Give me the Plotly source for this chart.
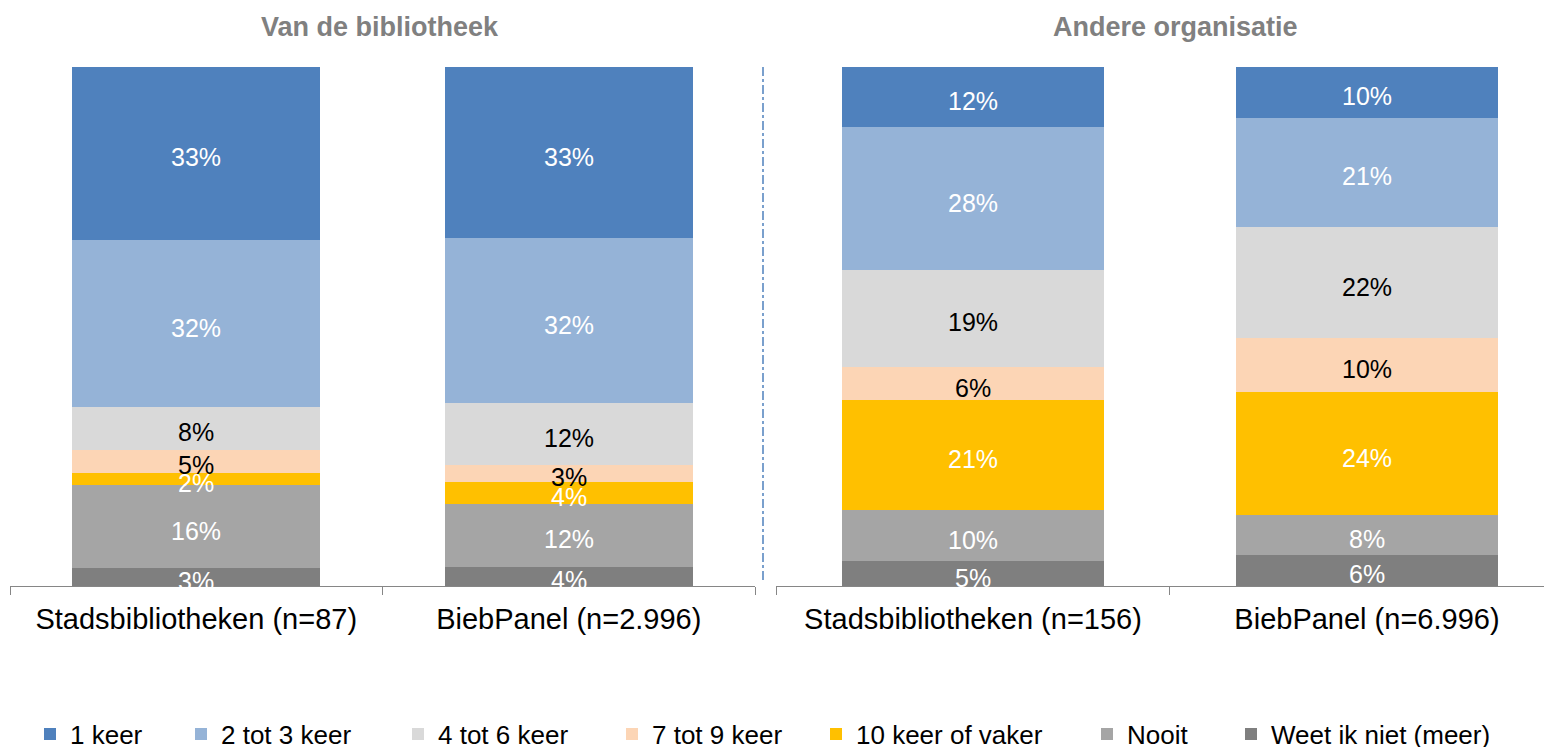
import plotly.graph_objects as go

W, H = 1552, 747
OFF = 8  # page body margin in the browser


def px_x(t):
    return (t - OFF) / W


def px_y(t):
    return 1 - (t - OFF) / H


series = ["Weet ik niet (meer)", "Nooit", "10 keer of vaker", "7 tot 9 keer",
          "4 tot 6 keer", "2 tot 3 keer", "1 keer"]
colors = ["#7F7F7F", "#A5A5A5", "#FFC000", "#FCD5B5", "#D9D9D9", "#95B3D7", "#4F81BD"]
text_colors = ["white", "white", "white", "black", "black", "white", "white"]

cats_left = ["Stadsbibliotheken (n=87)", "BiebPanel (n=2.996)"]
cats_right = ["Stadsbibliotheken (n=156)", "BiebPanel (n=6.996)"]

# values per series (bottom -> top), [bar1, bar2]
left_vals = [
    [3.4, 3.7],     # Weet ik niet (meer)
    [16.0, 12.1],   # Nooit
    [2.3, 4.2],     # 10 keer of vaker
    [4.6, 3.4],     # 7 tot 9 keer
    [8.1, 11.8],    # 4 tot 6 keer
    [32.3, 31.8],   # 2 tot 3 keer
    [33.3, 33.0],   # 1 keer
]
right_vals = [
    [4.8, 6.0],
    [9.8, 7.6],
    [21.2, 23.7],
    [6.4, 10.4],
    [18.7, 21.5],
    [27.5, 21.0],
    [11.6, 9.8],
]

panel_titles = ["Van de bibliotheek", "Andere organisatie"]

FONT = "Arial, Liberation Sans, sans-serif"
fig = go.Figure()

# target legend marker centres (screen px)
legend_marker_px = {"1 keer": 50, "2 tot 3 keer": 201, "4 tot 6 keer": 418, "7 tot 9 keer": 632,
                    "10 keer of vaker": 836, "Nooit": 1107, "Weet ik niet (meer)": 1251}


def add_panel(cats, vals, xa, ya, show_legend):
    cum = [0.0, 0.0]
    for i, name in enumerate(series):
        v = vals[i]
        lg = "legend" if i == 0 else f"legend{i+1}"
        fig.add_trace(go.Bar(
            x=cats, y=v, name=name, marker=dict(color=colors[i], line=dict(width=0)),
            width=0.665, xaxis=xa, yaxis=ya, legendgroup=name, legend=lg,
            showlegend=show_legend, hoverinfo="skip"))
        for k in range(2):
            mid = cum[k] + v[k] / 2
            fig.add_annotation(
                x=cats[k], y=mid, xref=xa, yref=ya, text=f"{round(v[k])}%",
                showarrow=False, xanchor="center", yanchor="middle", yshift=-4,
                font=dict(color=text_colors[i], size=25, family=FONT))
        cum = [cum[k] + v[k] for k in range(2)]


add_panel(cats_left, left_vals, "x", "y", True)
add_panel(cats_right, right_vals, "x2", "y2", False)

ydom = [px_y(586), px_y(67)]
axis_common = dict(type="category", showline=True, linecolor="#868686", linewidth=1,
                   ticks="outside", ticklen=8, tickcolor="#868686", tickson="boundaries",
                   showgrid=False, zeroline=False, ticklabelstandoff=7,
                   tickfont=dict(size=29, color="black", family=FONT))
layout = dict(
    width=W, height=H, margin=dict(l=0, r=0, t=0, b=0, autoexpand=False),
    paper_bgcolor="white", plot_bgcolor="white", barmode="stack",
    font=dict(family=FONT),
    xaxis=dict(domain=[px_x(10), px_x(755)], range=[-0.5, 1.5], anchor="y", **axis_common),
    xaxis2=dict(domain=[px_x(776), 1.0], range=[-0.5, 1.49], anchor="y2", **axis_common),
    yaxis=dict(domain=ydom, range=[0, 100], visible=False, anchor="x"),
    yaxis2=dict(domain=ydom, range=[0, 100], visible=False, anchor="x2"),
)
for i, name in enumerate(series):
    key = "legend" if i == 0 else f"legend{i+1}"
    layout[key] = dict(
        x=px_x(legend_marker_px[name] - 20), xanchor="left", y=px_y(734), yanchor="middle",
        xref="paper", yref="paper", orientation="h", bgcolor="rgba(0,0,0,0)",
        itemwidth=30, font=dict(size=26, color="black", family=FONT))
fig.update_layout(**layout)

title_x_px = [380, 1175]
for t, xp in zip(panel_titles, title_x_px):
    fig.add_annotation(text=f"<b>{t}</b>", x=px_x(xp), y=px_y(27), xref="paper", yref="paper",
                       showarrow=False, xanchor="center", yanchor="middle",
                       font=dict(size=27, color="#808080", family=FONT))

fig.add_shape(type="line", xref="paper", yref="paper", x0=px_x(763), x1=px_x(763),
              y0=px_y(67), y1=px_y(583),
              line=dict(color="#4F81BD", width=1.5, dash="dashdot"))

fig.write_html("out.html")
